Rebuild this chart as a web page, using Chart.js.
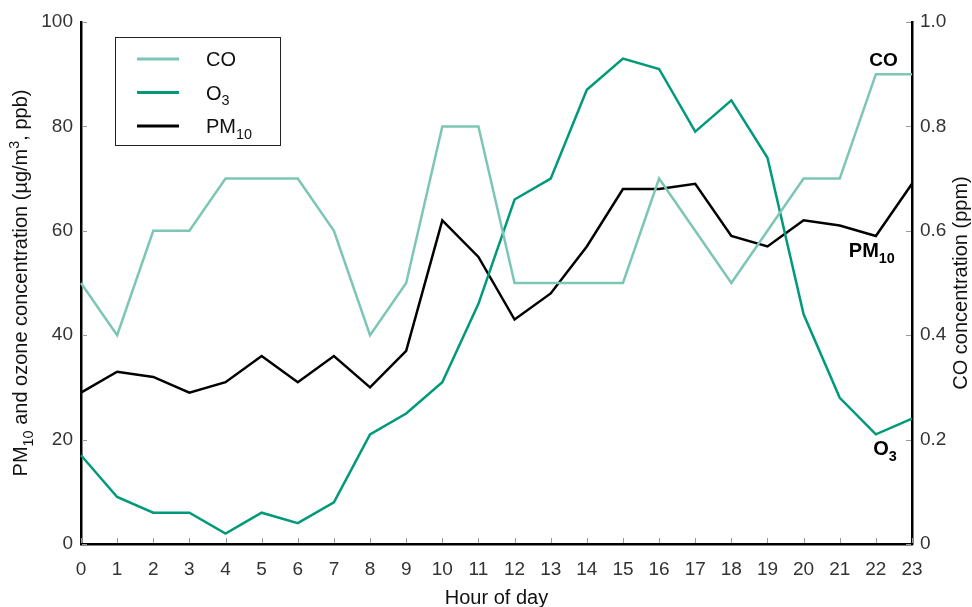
<!DOCTYPE html>
<html>
<head>
<meta charset="utf-8">
<title>Hourly pollutant concentrations</title>
<script src="https://cdn.jsdelivr.net/npm/chart.js@4.4.1/dist/chart.umd.min.js"></script>
<style>
  html, body { margin: 0; padding: 0; background: #fff; }
  #wrap { width: 972px; height: 607px; }
</style>
</head>
<body>
<div id="wrap"><canvas id="hourly_chart" width="972" height="607"></canvas></div>
<script>
// DATA
const hours = ['0','1','2','3','4','5','6','7','8','9','10','11','12','13','14','15','16','17','18','19','20','21','22','23'];
const co_ppm = [0.5, 0.4, 0.6, 0.6, 0.7, 0.7, 0.7, 0.6, 0.4, 0.5, 0.8, 0.8, 0.5, 0.5, 0.5, 0.5, 0.7, 0.6, 0.5, 0.6, 0.7, 0.7, 0.9, 0.9];
const o3_ppb = [17, 9, 6, 6, 2, 6, 4, 8, 21, 25, 31, 46, 66, 70, 87, 93, 91, 79, 85, 74, 44, 28, 21, 24];
const pm10_ug = [29, 33, 32, 29, 31, 36, 31, 36, 30, 37, 62, 55, 43, 48, 57, 68, 68, 69, 59, 57, 62, 61, 59, 69];
const left_ticks = [0, 20, 40, 60, 80, 100];
const right_ticks = [0, 0.2, 0.4, 0.6, 0.8, 1.0];

const CO_COLOR = '#7dc6b6';
const O3_COLOR = '#00997a';
const PM_COLOR = '#000000';
const FONT = '"Liberation Sans", Arial, Helvetica, sans-serif';
const TEXT_COLOR = '#333333';

// draw text with sub/superscript pieces; y is the baseline
function drawRich(c, parts, x, y, size, bold, align){
	const w = bold ? 'bold ' : '';
	let total = 0;
	parts.forEach(p => {
		const s = p[1] ? size * 0.72 : size;
		c.font = w + s + 'px ' + FONT;
		p.width = c.measureText(p[0]).width;
		total += p.width;
	});
	let cx = x;
	if(align === 'center') cx = x - total / 2;
	if(align === 'right') cx = x - total;
	c.textAlign = 'left';
	c.textBaseline = 'alphabetic';
	parts.forEach(p => {
		const s = p[1] ? size * 0.72 : size;
		let dy = 0;
		if(p[1] === 'sub') dy = size * 0.28;
		if(p[1] === 'sup') dy = -size * 0.4;
		c.font = w + s + 'px ' + FONT;
		c.fillText(p[0], cx, y + dy);
		cx += p.width;
	});
}

const legend_items = [
	{ color: CO_COLOR, parts: [['CO', '']] },
	{ color: O3_COLOR, parts: [['O', ''], ['3', 'sub']] },
	{ color: PM_COLOR, parts: [['PM', ''], ['10', 'sub']] }
];

// inner tick marks, axis titles, legend box and series labels
const decor = {
	id: 'decor',
	afterDraw(chart){
		const c = chart.ctx;
		const xs = chart.scales.x, yl = chart.scales.y, yr = chart.scales.y1;
		const area = chart.chartArea;
		const mid_y = (area.top + area.bottom) / 2;
		c.save();

		c.strokeStyle = '#999';
		c.lineWidth = 1;
		c.beginPath();
		hours.forEach((h, i) => {
			const px = Math.round(xs.getPixelForValue(i)) + 0.5;
			c.moveTo(px, area.bottom - 1);
			c.lineTo(px, area.bottom - 6);
		});
		left_ticks.forEach(v => {
			const py = Math.round(yl.getPixelForValue(v)) + 0.5;
			c.moveTo(area.left + 1, py);
			c.lineTo(area.left + 6, py);
		});
		right_ticks.forEach(v => {
			const py = Math.round(yr.getPixelForValue(v)) + 0.5;
			c.moveTo(area.right - 1, py);
			c.lineTo(area.right - 6, py);
		});
		c.stroke();

		c.fillStyle = '#111';
		// x title
		drawRich(c, [['Hour of day', '']], (area.left + area.right) / 2, 604, 20, false, 'center');
		// left title
		c.save();
		c.translate(27, mid_y);
		c.rotate(-Math.PI / 2);
		drawRich(c, [['PM', ''], ['10', 'sub'], [' and ozone concentration (\u00b5g/m', ''], ['3', 'sup'], [', ppb)', '']], 0, 0, 20, false, 'center');
		c.restore();
		// right title
		c.save();
		c.translate(967, mid_y);
		c.rotate(-Math.PI / 2);
		drawRich(c, [['CO concentration (ppm)', '']], 0, 0, 20, false, 'center');
		c.restore();

		// legend
		c.strokeStyle = '#222';
		c.lineWidth = 1;
		c.strokeRect(115.5, 37.5, 165, 108);
		legend_items.forEach((item, i) => {
			const ly = 59 + i * 33.5;
			c.strokeStyle = item.color;
			c.lineWidth = 3;
			c.beginPath();
			c.moveTo(137, ly);
			c.lineTo(179, ly);
			c.stroke();
			c.fillStyle = '#111';
			drawRich(c, item.parts, 206, ly + 7, 20, false, 'left');
		});

		// series labels at the right end
		c.fillStyle = '#000';
		const xr = xs.getPixelForValue(22) + 22;
		drawRich(c, [['CO', '']], xr, yr.getPixelForValue(co_ppm[22]) - 8, 19, true, 'right');
		drawRich(c, [['PM', ''], ['10', 'sub']], xr - 3, yl.getPixelForValue(pm10_ug[22]) + 21, 20, true, 'right');
		drawRich(c, [['O', ''], ['3', 'sub']], xr - 1, yl.getPixelForValue(o3_ppb[22]) + 21, 20, true, 'right');

		c.restore();
	}
};

const ctx = document.getElementById('hourly_chart').getContext('2d');

const axis_border = { display: true, color: '#000', width: 2.5 };
const no_grid = { display: true, drawOnChartArea: false, drawTicks: false };
const tick_font = { family: FONT, size: 19 };

const my_chart = new Chart(ctx, {
	type: 'line',
	data: {
		labels: hours,
		datasets: [{
			label: 'CO',
			data: co_ppm,
			yAxisID: 'y1',
			borderColor: CO_COLOR,
			borderWidth: 2.5,
			pointRadius: 0,
			fill: false,
			tension: 0
		},{
			label: 'O3',
			data: o3_ppb,
			yAxisID: 'y',
			borderColor: O3_COLOR,
			borderWidth: 2.5,
			pointRadius: 0,
			fill: false,
			tension: 0
		},{
			label: 'PM10',
			data: pm10_ug,
			yAxisID: 'y',
			borderColor: PM_COLOR,
			borderWidth: 2.5,
			pointRadius: 0,
			fill: false,
			tension: 0
		}]
	},
	options: {
		responsive: false,
		animation: false,
		layout: { padding: { top: 22, left: 0, right: 0, bottom: 0 } },
		plugins: {
			legend: { display: false },
			tooltip: { enabled: false }
		},
		scales: {
			x: {
				type: 'category',
				offset: false,
				grid: no_grid,
				border: axis_border,
				ticks: { color: TEXT_COLOR, font: tick_font, padding: 14, maxRotation: 0, autoSkip: false },
				afterFit: s => { s.height = 63; }
			},
			y: {
				position: 'left',
				min: 0,
				max: 100,
				grid: no_grid,
				border: axis_border,
				ticks: { stepSize: 20, color: TEXT_COLOR, font: tick_font, padding: 8 },
				afterFit: s => { s.width = 81; }
			},
			y1: {
				position: 'right',
				min: 0,
				max: 1,
				grid: no_grid,
				border: axis_border,
				ticks: {
					stepSize: 0.2, color: TEXT_COLOR, font: tick_font, padding: 8,
					callback: v => v === 0 ? '0' : v.toFixed(1)
				},
				afterFit: s => { s.width = 60; }
			}
		}
	},
	plugins: [decor]
});
</script>
</body>
</html>
